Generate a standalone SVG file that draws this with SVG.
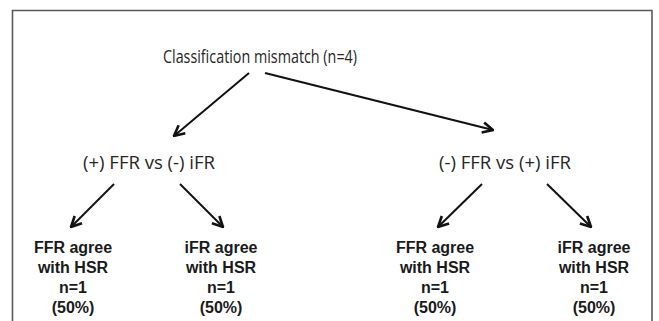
<svg xmlns="http://www.w3.org/2000/svg" width="659" height="321" viewBox="0 0 659 321">
<style>
.frame{fill:none;stroke:#5a5a5a;stroke-width:1.6}
.lvl{font-family:"Open Sans","Liberation Sans",sans-serif;font-size:19px;fill:#262626;text-anchor:middle}
.leaf{font-family:"Liberation Sans",Arial,sans-serif;font-size:16px;font-weight:bold;fill:#1a1a1a;text-anchor:middle}
.conn line{stroke:#111;stroke-width:2;marker-end:url(#ah)}
</style>
<defs>
<marker id="ah" viewBox="0 0 10 10" refX="9" refY="5" markerWidth="6.5" markerHeight="6.5" orient="auto" markerUnits="strokeWidth">
<polyline points="1,1 9,5 1,9" fill="none" stroke="#111" stroke-width="2" stroke-linejoin="miter"/>
</marker>
</defs>
<rect width="659" height="321" fill="#fff"/>
<path class="frame" d="M12.5,325 V10.5 H652 V325"/>
<g id="root"><text class="lvl" x="260" y="63" textLength="194" lengthAdjust="spacingAndGlyphs">Classification mismatch (n=4)</text></g>
<g id="left"><text class="lvl" x="149" y="169" textLength="132" lengthAdjust="spacingAndGlyphs">(+) FFR vs (-) iFR</text></g>
<g id="right"><text class="lvl" x="505" y="169" textLength="132" lengthAdjust="spacingAndGlyphs">(-) FFR vs (+) iFR</text></g>
<g id="leaf1"><text class="leaf" x="73" y="253">FFR agree</text><text class="leaf" x="73" y="273">with HSR</text><text class="leaf" x="73" y="293">n=1</text><text class="leaf" x="73" y="313">(50%)</text></g>
<g id="leaf2"><text class="leaf" x="221" y="253">iFR agree</text><text class="leaf" x="221" y="273">with HSR</text><text class="leaf" x="221" y="293">n=1</text><text class="leaf" x="221" y="313">(50%)</text></g>
<g id="leaf3"><text class="leaf" x="435" y="253">FFR agree</text><text class="leaf" x="435" y="273">with HSR</text><text class="leaf" x="435" y="293">n=1</text><text class="leaf" x="435" y="313">(50%)</text></g>
<g id="leaf4"><text class="leaf" x="594" y="253">iFR agree</text><text class="leaf" x="594" y="273">with HSR</text><text class="leaf" x="594" y="293">n=1</text><text class="leaf" x="594" y="313">(50%)</text></g>
<g id="connectors" class="conn">
<line x1="249" y1="73" x2="174" y2="136"/>
<line x1="265" y1="73" x2="493" y2="130"/>
<line x1="114" y1="184" x2="71" y2="227"/>
<line x1="180" y1="184" x2="223" y2="227"/>
<line x1="482" y1="184" x2="438" y2="227"/>
<line x1="547" y1="184" x2="591" y2="227"/>
</g>
</svg>
